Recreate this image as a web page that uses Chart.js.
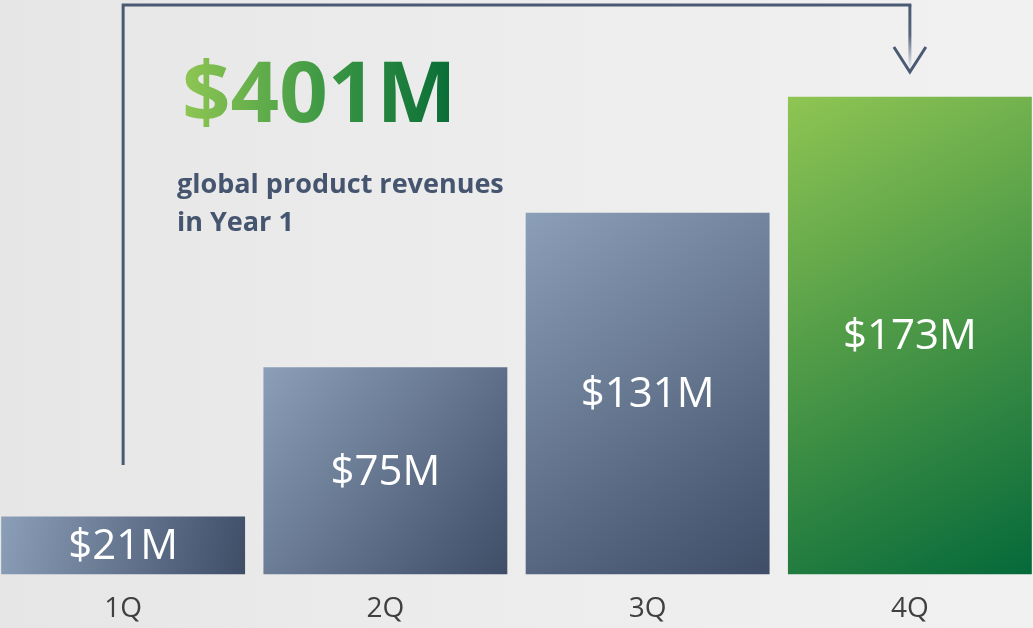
<!DOCTYPE html>
<html>
<head>
<meta charset="utf-8">
<script src="https://cdn.jsdelivr.net/npm/chart.js@4/dist/chart.umd.min.js"></script>
<style>
  html, body { margin: 0; padding: 0; width: 1033px; height: 628px; overflow: hidden; }
  body { background: linear-gradient(90deg, #e6e6e6 0%, #ececec 45%, #f1f1f1 100%); position: relative; }
  #wrap { position: absolute; left: -8px; top: 0; width: 1049px; height: 647px; }
</style>
</head>
<body>
<div id="wrap"><canvas id="chart"></canvas></div>
<script>
// Quarterly product revenues, year 1 ($M)
const quarters = ["1Q", "2Q", "3Q", "4Q"];
const revenues = [21, 75, 131, 173];
const revenueLabels = ["$21M", "$75M", "$131M", "$173M"];
const totalLabel = "$401M";
const subtitleLines = ["global product revenues", "in Year 1"];

const FONT = "'Open Sans', 'Noto Sans', sans-serif";
const SLATE = ["#8c9fb8", "#3f4d67"];
const GREEN = ["#8fc553", "#05693a"];

function barGradient(ctx) {
  const chart = ctx.chart;
  if (!chart.chartArea) return SLATE[1];
  const xs = chart.scales.x, ys = chart.scales.y;
  const i = ctx.dataIndex;
  const half = (xs.width / quarters.length) * 0.93 / 2;
  const cx = xs.getPixelForValue(i);
  const top = ys.getPixelForValue(revenues[i]);
  const base = ys.getPixelForValue(0);
  const cols = i === quarters.length - 1 ? GREEN : SLATE;
  const g = chart.ctx.createLinearGradient(cx - half, top, cx + half, base);
  g.addColorStop(0, cols[0]);
  g.addColorStop(1, cols[1]);
  return g;
}

// value labels inside bars, the total + bracket arrow
const decor = {
  id: "decor",
  afterDatasetsDraw(chart) {
    const c = chart.ctx;
    const meta = chart.getDatasetMeta(0);
    c.save();
    c.fillStyle = "#ffffff";
    c.font = "42px " + FONT;
    c.textAlign = "center";
    c.textBaseline = "middle";
    meta.data.forEach((bar, i) => {
      c.fillText(revenueLabels[i], bar.x, (bar.y + bar.base) / 2 + 2);
    });

    // bracket from 1Q to 4Q
    const x1 = meta.data[0].x, x4 = meta.data[3].x;
    const yTop = 5, yStart = 465, tip = 72;
    c.strokeStyle = "#4b5a74";
    c.lineWidth = 3;
    c.lineCap = "butt";
    c.beginPath();
    c.moveTo(x1, yStart);
    c.lineTo(x1, yTop);
    c.lineTo(x4 + 1.5, yTop);
    c.stroke();
    const fade = c.createLinearGradient(0, yTop, 0, tip);
    fade.addColorStop(0, "#4b5a74");
    fade.addColorStop(0.45, "#56647c");
    fade.addColorStop(0.9, "#e4e7ec");
    c.strokeStyle = fade;
    c.beginPath();
    c.moveTo(x4, yTop);
    c.lineTo(x4, tip - 2);
    c.stroke();
    c.strokeStyle = "#4b5a74";
    c.lineJoin = "miter";
    c.beginPath();
    c.moveTo(x4 - 16, 47);
    c.lineTo(x4, tip);
    c.lineTo(x4 + 16, 47);
    c.stroke();

    // headline total
    c.textAlign = "left";
    c.textBaseline = "alphabetic";
    c.font = "bold 85px " + FONT;
    const tx = 183 + 8;
    const w = c.measureText(totalLabel).width;
    const tg = c.createLinearGradient(tx, 0, tx + w, 0);
    tg.addColorStop(0, "#8fc653");
    tg.addColorStop(0.5, "#3f9a45");
    tg.addColorStop(1, "#066b36");
    c.fillStyle = tg;
    c.fillText(totalLabel, tx - 1, 122);

    c.fillStyle = "#46556f";
    c.font = "bold 27px " + FONT;
    c.fillText(subtitleLines[0], 177 + 8, 193);
    c.fillText(subtitleLines[1], 177 + 8, 231);
    c.restore();
  },
};

new Chart(document.getElementById("chart"), {
  type: "bar",
  data: {
    labels: quarters,
    datasets: [{
      data: revenues,
      backgroundColor: barGradient,
      borderWidth: 0,
      barPercentage: 0.93,
      categoryPercentage: 1,
    }],
  },
  options: {
    responsive: true,
    maintainAspectRatio: false,
    animation: false,
    layout: { padding: { top: 0, bottom: 3, left: 0, right: 0 } },
    plugins: { legend: { display: false }, tooltip: { enabled: false } },
    scales: {
      x: {
        grid: { display: false, drawTicks: false },
        border: { display: false },
        ticks: { color: "#404040", font: { family: FONT, size: 28 }, padding: 18 },
      },
      y: { display: false, min: 0, max: 208 },
    },
  },
  plugins: [decor],
});
</script>
</body>
</html>
